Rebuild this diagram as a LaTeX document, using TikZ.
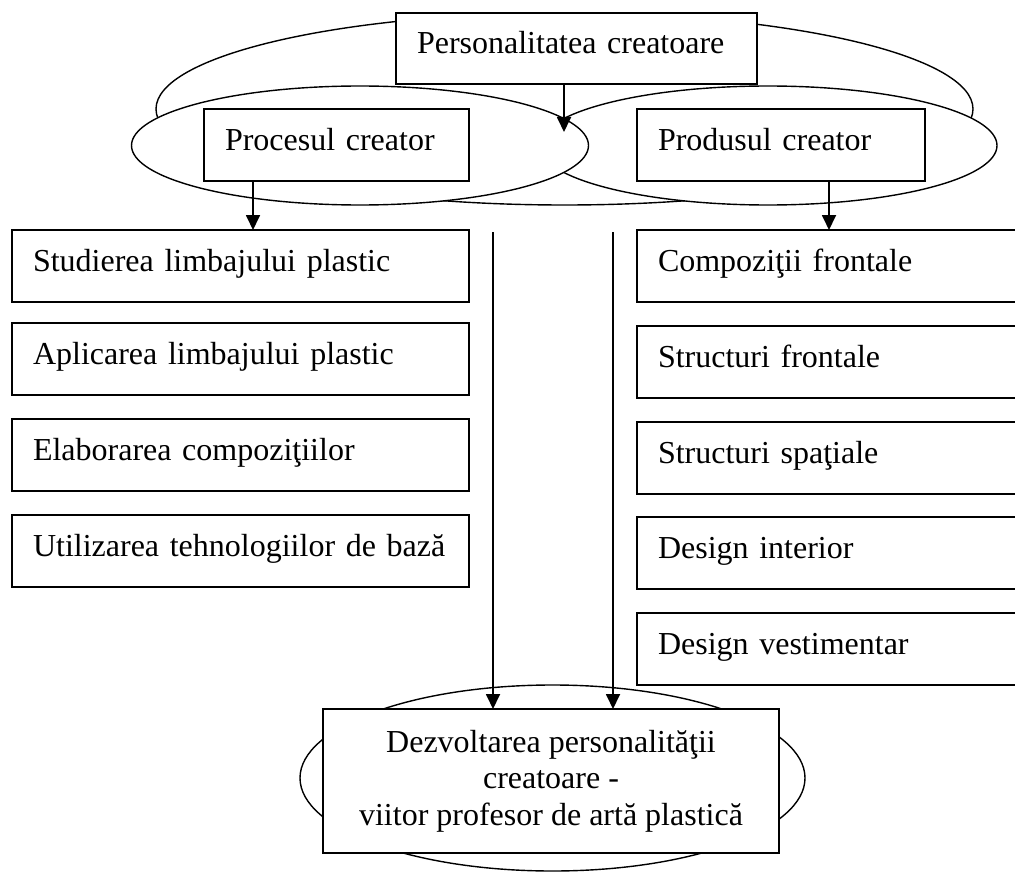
\documentclass[tikz,border=0pt]{standalone}
\usepackage{fontspec}
\setmainfont{Liberation Serif}
\usetikzlibrary{arrows.meta}
\tikzset{
  bx/.style={draw, line width=1.6pt, fill=white, rectangle, anchor=north west,
    inner xsep=21pt, inner ysep=0pt, outer sep=0pt, text height=41pt, text depth=31pt,
    align=left, font=\fontsize{32}{37}\selectfont},
  ell/.style={draw, line width=1.4pt, fill=white},
  arr/.style={line width=1.8pt, -{Triangle[width=14pt,length=15pt]}},
}
\begin{document}
\begin{tikzpicture}[x=1pt,y=-1pt]
\useasboundingbox (0,0) rectangle (1015,872);
% ellipses
\draw[ell] (564.5,109) ellipse [x radius=408.5pt, y radius=96pt];
\draw[ell] (768,145.5) ellipse [x radius=229pt, y radius=59.5pt];
\draw[ell] (360,145.5) ellipse [x radius=228.5pt, y radius=59.5pt];
\draw[ell] (552.5,778) ellipse [x radius=252.5pt, y radius=93pt];
% top boxes
\node[bx, text width=319pt, text depth=30pt] (top) at (396,13) {Personalitatea creatoare};
\node[bx, text width=223pt] (proc) at (204,109) {Procesul creator};
\node[bx, text width=246pt] (prod) at (637,109) {Produsul creator};
% left column
\node[bx, text width=415pt] (l1) at (12,230) {Studierea limbajului plastic};
\node[bx, text width=415pt] (l2) at (12,323) {Aplicarea limbajului plastic};
\node[bx, text width=415pt] (l3) at (12,419) {Elaborarea compoziţiilor};
\node[bx, text width=415pt] (l4) at (12,515) {Utilizarea tehnologiilor de bază};
% right column
\node[bx, text width=341pt] (r1) at (637,230) {Compoziţii frontale};
\node[bx, text width=341pt] (r2) at (637,326) {Structuri frontale};
\node[bx, text width=341pt] (r3) at (637,422) {Structuri spaţiale};
\node[bx, text width=341pt] (r4) at (637,517) {Design interior};
\node[bx, text width=341pt] (r5) at (637,613) {Design vestimentar};
% final box
\node[draw, line width=1.6pt, fill=white, rectangle, outer sep=0pt, minimum width=456pt,
  minimum height=144pt, align=center, font=\fontsize{32}{36.5}\selectfont] (fin) at (551,781)
  {Dezvoltarea personalităţii\\creatoare -\\viitor profesor de artă plastică};
% connectors
\coordinate (mid) at (564,132);
\draw[arr] (top.south -| mid) -- (mid);
\draw[arr] ([xshift=49pt]proc.south west) -- ([xshift=49pt]proc.south west |- l1.north);
\draw[arr] ([xshift=192pt]prod.south west) -- ([xshift=192pt]prod.south west |- r1.north);
\coordinate (v1) at (493,232);
\coordinate (v2) at (613,232);
\draw[arr] (v1) -- (v1 |- fin.north);
\draw[arr] (v2) -- (v2 |- fin.north);
\end{tikzpicture}
\end{document}
